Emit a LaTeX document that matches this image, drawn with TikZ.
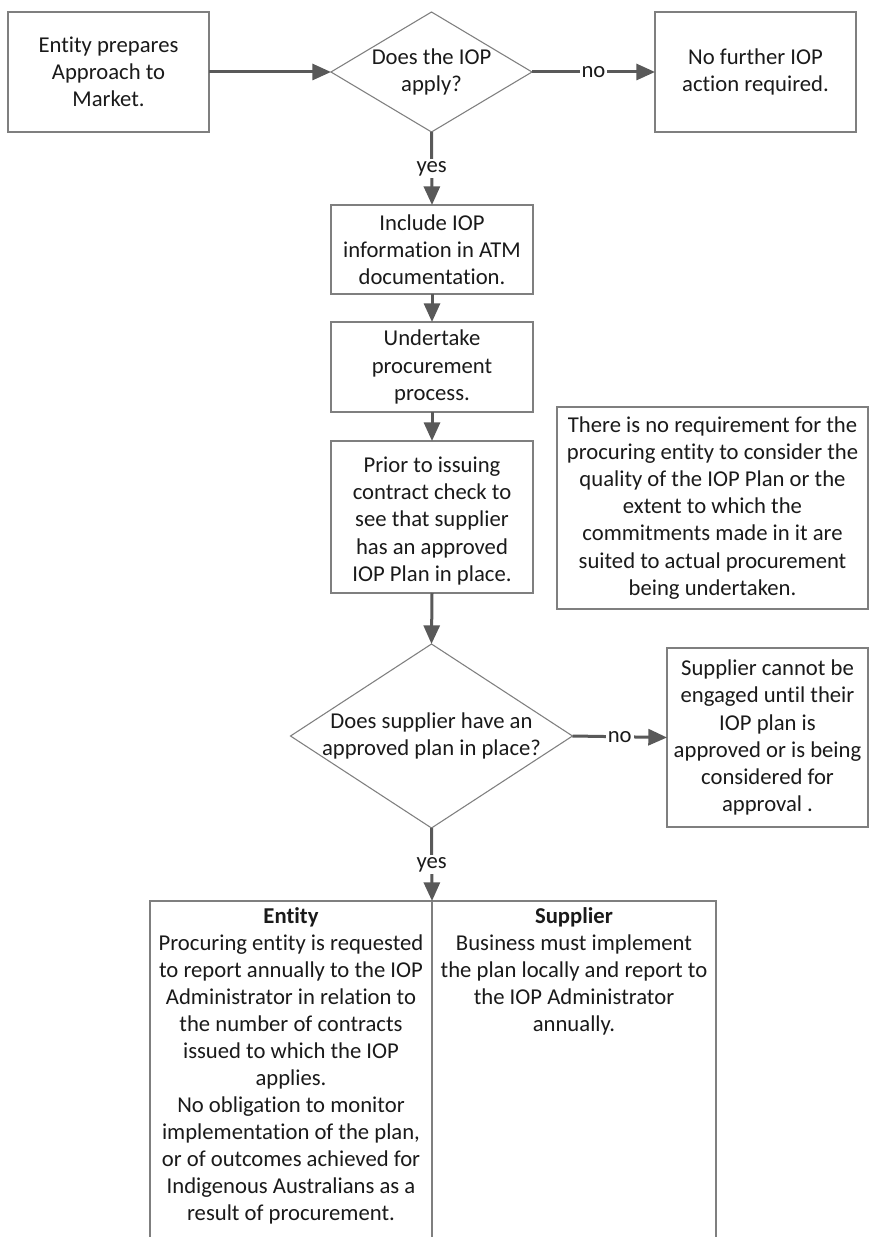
\documentclass[tikz,border=0pt]{standalone}
\usepackage{fontspec}
\setmainfont{Carlito}[Ligatures=NoCommon]
\usetikzlibrary{shapes.geometric,arrows.meta}
\definecolor{bordercol}{HTML}{7F7F7F}
\definecolor{arrowcol}{HTML}{595959}
\definecolor{txtcol}{HTML}{1A1A1A}
\tikzset{
  boxnode/.style={draw=bordercol, line width=0.9pt, fill=white, rectangle, inner sep=0pt, outer sep=0pt},
  dianode/.style={draw=bordercol, line width=0.8pt, fill=white, diamond, inner sep=0pt, outer sep=0pt},
  txt/.style={align=center, text=txtcol, inner sep=0pt, font=\fontsize{17}{20.3}\selectfont},
  conn/.style={draw=arrowcol, line width=2.25pt, -{Triangle[length=14pt,width=12pt]}},
  lbl/.style={fill=white, text=txtcol, inner sep=1.5pt, font=\fontsize{17}{20.3}\selectfont}
}
\begin{document}
\begin{tikzpicture}[x=0.75pt,y=-0.75pt]
\clip (0,0) rectangle (869,1237);
\useasboundingbox (0,0) rectangle (869,1237);
\fill[white] (0,0) rectangle (869,1237);

% top row
\node[boxnode, minimum width=150.75pt, minimum height=90pt] (b1) at (108.5,72) {};
\node[txt] (b1t) at (b1) {Entity prepares\\Approach to\\Market.};
\node[dianode, minimum width=150.75pt, minimum height=90pt] (d1) at (431.5,72) {};
\node[txt] (d1t) at (d1) {Does the IOP\\apply?};
\node[boxnode, minimum width=150.75pt, minimum height=90pt] (nf) at (755.5,72) {};
\node[txt] (nft) at (nf) {No further IOP\\action required.};

% middle column
\node[boxnode, minimum width=151.5pt, minimum height=66.75pt] (b2) at (432,249.5) {};
\node[txt] (b2t) at (b2) {Include IOP\\information in ATM\\documentation.};
\node[boxnode, minimum width=151.5pt, minimum height=67.5pt] (b3) at (432,367) {};
\node[txt] (b3t) at (b3) {Undertake\\procurement\\process.};
\node[boxnode, minimum width=151.5pt, minimum height=114pt] (b4) at (432,517) {};
\node[txt] (b4t) at (432,521) {Prior to issuing\\contract check to\\see that supplier\\has an approved\\IOP Plan in place.};

% note
\node[boxnode, minimum width=233.25pt, minimum height=151.5pt] (note) at (712.5,508) {};
\node[txt] (notet) at (note) {There is no requirement for the\\procuring entity to consider the\\quality of the IOP Plan or the\\extent to which the\\commitments made in it are\\suited to actual procurement\\being undertaken.};

% second decision
\node[dianode, minimum width=211.5pt, minimum height=138pt] (d2) at (431.5,736) {};
\node[txt] (d2t) at (d2) {Does supplier have an\\approved plan in place?};
\node[boxnode, minimum width=150.75pt, minimum height=134.25pt] (sc) at (767.5,737.5) {};
\node[txt] (sct) at (sc) {Supplier cannot be\\engaged until their\\IOP plan is\\approved or is being\\considered for\\approval .};

% bottom columns
\node[boxnode, minimum width=211.5pt, minimum height=270pt] (ent) at (291,1081) {};
\node[boxnode, minimum width=213pt, minimum height=270pt] (sup) at (574,1081) {};
\node[txt, anchor=north, inner sep=4.5pt] (entt) at (ent.north) {\textbf{Entity}\\Procuring entity is requested\\to report annually to the IOP\\Administrator in relation to\\the number of contracts\\issued to which the IOP\\applies.\\No obligation to monitor\\implementation of the plan,\\or of outcomes achieved for\\Indigenous Australians as a\\result of procurement.};
\node[txt, anchor=north, inner sep=4.5pt] (supt) at (sup.north) {\textbf{Supplier}\\Business must implement\\the plan locally and report to\\the IOP Administrator\\annually.};

% connectors
\draw[conn] (b1.east) -- (d1.west);
\draw[conn] (d1.east) -- node[lbl] (no1) {no} (nf.west);
\draw[conn] (d1.south) -- node[lbl] (yes1) {yes} (b2.north);
\draw[conn] (b2.south) -- (b3.north);
\draw[conn] (b3.south) -- (b4.north);
\draw[conn] (b4.south) -- (d2.north);
\draw[conn] (d2.east) -- node[lbl] (no2) {no} (sc.west);
\draw[conn] (d2.south) -- node[lbl] (yes2) {yes} (ent.north east);
\end{tikzpicture}
\end{document}
